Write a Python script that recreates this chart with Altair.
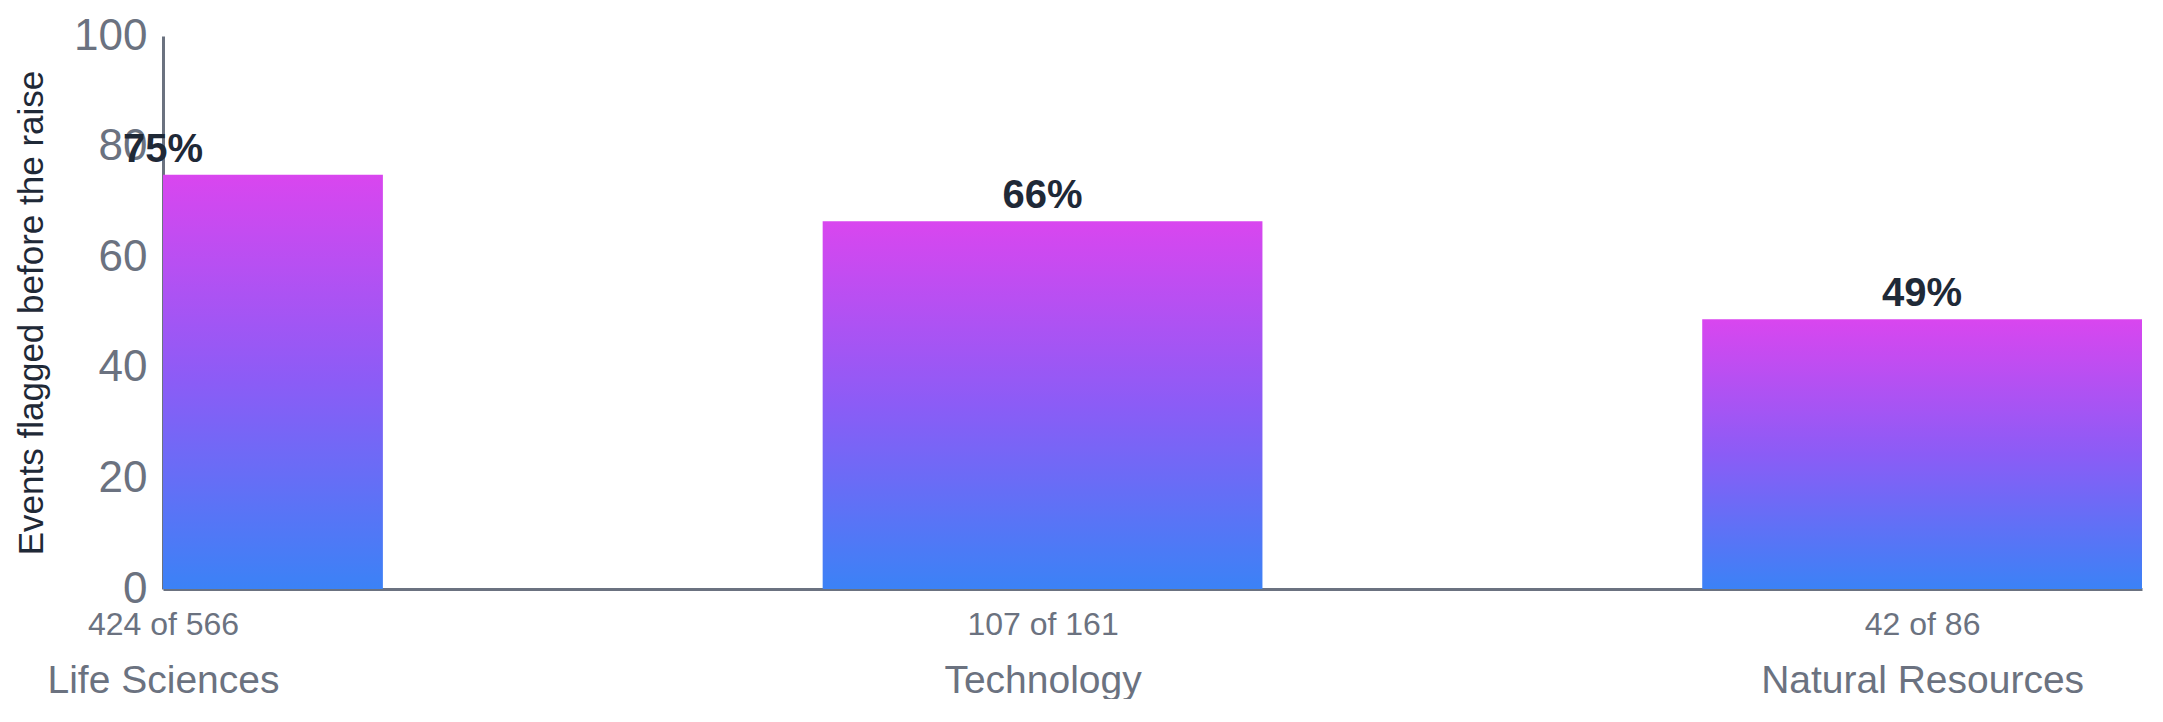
import altair as alt
import pandas as pd

# ---- data ----
categories = ["Life Sciences", "Technology", "Natural Resources"]
flagged = [424, 107, 42]
totals = [566, 161, 86]
percent = [74.9, 66.5, 48.8]
pct_labels = ["75%", "66%", "49%"]
y_ticks = [0, 20, 40, 60, 80, 100]

count_text = [f"{f} of {t}" for f, t in zip(flagged, totals)]

df = pd.DataFrame({
    "idx": list(range(len(categories))),
    "category": categories,
    "pct": percent,
    "pct_label": pct_labels,
})

FONT = "Liberation Sans"
GRAY = "#6b7280"
DARK = "#1f2937"


def js_array(items):
    return "[" + ",".join("'" + s + "'" for s in items) + "]"


x_scale = alt.Scale(domain=[0, 2.25], nice=False, zero=False)
y_scale = alt.Scale(domain=[0, 100], nice=False)

y_axis = alt.Axis(
    values=y_ticks,
    title="Events flagged before the raise",
    titleFont=FONT,
    titleFontSize=35,
    titleFontWeight="normal",
    titleColor=DARK,
    titlePadding=24,
    ticks=False,
    grid=False,
    domainColor=GRAY,
    domainWidth=3,
    labelFont=FONT,
    labelFontSize=44,
    labelColor=GRAY,
    labelPadding=16,
    labelFlush=False,
    labelOverlap=False,
    labelLimit=0,
)

gradient = alt.Gradient(
    gradient="linear",
    stops=[
        alt.GradientStop(color="#3b82f6", offset=0),
        alt.GradientStop(color="#8b5cf6", offset=0.5),
        alt.GradientStop(color="#d946ef", offset=1),
    ],
    x1=0, x2=0, y1=1, y2=0,
)

base = alt.Chart(df).transform_calculate(
    lo="datum.idx - 0.25", hi="datum.idx + 0.25"
)

bars = base.mark_bar(clip=True, color=gradient).encode(
    x=alt.X(
        "lo:Q",
        scale=x_scale,
        axis=alt.Axis(
            values=[0, 1, 2],
            labelExpr=js_array(count_text) + "[datum.value]",
            orient="bottom",
            title=None,
            ticks=False,
            grid=False,
            domain=True,
            domainColor=GRAY,
            domainWidth=3,
            labelFont=FONT,
            labelFontSize=32,
            labelColor=GRAY,
            labelPadding=20,
            labelAlign="center",
            labelBaseline="top",
            labelFlush=False,
            labelOverlap=False,
            labelBound=False,
            labelLimit=0,
        ),
    ),
    x2="hi:Q",
    y=alt.Y("pct:Q", scale=y_scale, axis=y_axis),
    y2=alt.datum(0),
)

labels = base.mark_text(
    font=FONT, fontWeight="bold", fontSize=40, color=DARK,
    baseline="alphabetic", dy=-13,
).encode(
    x=alt.X(
        "idx:Q",
        scale=x_scale,
        axis=alt.Axis(
            values=[0, 1, 2],
            labelExpr=js_array(categories) + "[datum.value]",
            orient="bottom",
            title=None,
            ticks=False,
            grid=False,
            domain=False,
            labelFont=FONT,
            labelFontSize=39,
            labelColor=GRAY,
            labelPadding=72,
            labelAlign="center",
            labelBaseline="top",
            labelFlush=False,
            labelOverlap=False,
            labelBound=False,
            labelLimit=0,
        ),
    ),
    y=alt.Y("pct:Q", scale=y_scale, axis=y_axis),
    text="pct_label:N",
)

chart = (
    alt.layer(bars, labels)
    .resolve_axis(x="independent")
    .properties(
        width=1979,
        height=553,
        autosize=alt.AutoSizeParams(type="none"),
        padding={"left": 155, "top": 28, "right": 13, "bottom": 110},
        background="white",
    )
    .configure_view(stroke=None)
)

chart.save("out.html", embed_options={"renderer": "svg", "actions": False})
